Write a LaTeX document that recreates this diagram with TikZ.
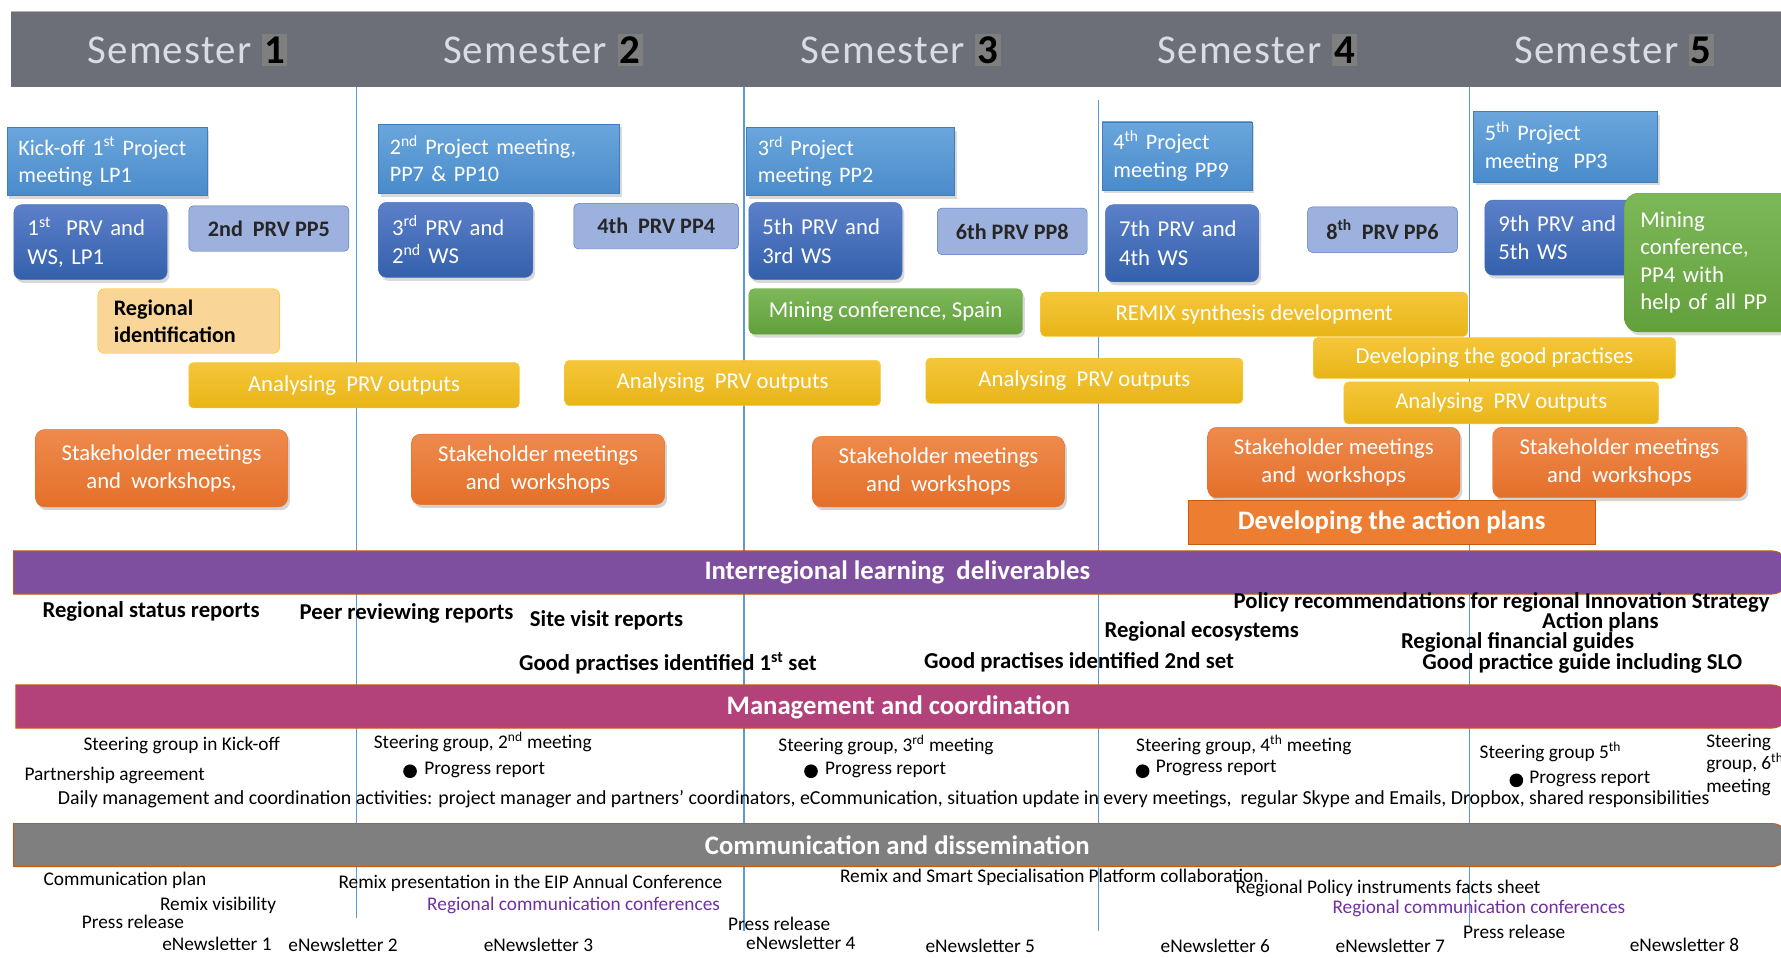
\documentclass[tikz,border=0pt]{standalone}
\usepackage{fontspec}
\setmainfont{Carlito}
\newfontfamily\semfont[LetterSpace=3]{Carlito}
\usetikzlibrary{shadows}

\definecolor{headgray}{HTML}{6D6F78}
\definecolor{semtext}{HTML}{D9DCE2}
\definecolor{numgray}{HTML}{7F7F7F}
\definecolor{gridblue}{HTML}{5B9BD5}
\definecolor{meettop}{HTML}{6AA6DC}
\definecolor{meetbot}{HTML}{4A8BCB}
\definecolor{prvtop}{HTML}{5B80C9}
\definecolor{prvbot}{HTML}{3460AB}
\definecolor{prvline}{HTML}{4F72BE}
\definecolor{prvlight}{HTML}{9DB1DE}
\definecolor{greentop}{HTML}{7DB858}
\definecolor{greenbot}{HTML}{62A03C}
\definecolor{yelltop}{HTML}{F5C63A}
\definecolor{yellbot}{HTML}{E8B517}
\definecolor{yellline}{HTML}{F9C940}
\definecolor{regfill}{HTML}{F9D597}
\definecolor{regline}{HTML}{FFC000}
\definecolor{orantop}{HTML}{EE8A4C}
\definecolor{oranbot}{HTML}{E4702A}
\definecolor{oranfill}{HTML}{ED7D31}
\definecolor{barline}{HTML}{C55A11}
\definecolor{delivpurple}{HTML}{7F4F9F}
\definecolor{mgmtpink}{HTML}{B4427A}
\definecolor{commgray}{HTML}{7F7F7F}
\definecolor{confpurple}{HTML}{7030A0}

\newcommand{\semnum}[1]{{\setlength{\fboxsep}{2pt}\colorbox{numgray}{\normalfont\bfseries\color{black}#1}}}

\begin{document}
\begin{tikzpicture}[x=1pt, y=-1pt,
  sem/.style={text=semtext, font=\semfont\fontsize{36}{38}\selectfont},
  meet/.style={top color=meettop, bottom color=meetbot, draw=meetbot!90!black, text=white,
    anchor=north west, inner xsep=10pt, align=left, font=\fontsize{19.5}{24}\selectfont,
    drop shadow={shadow xshift=2pt, shadow yshift=-3pt, opacity=0.3}},
  prv/.style={top color=prvtop, bottom color=prvbot, draw=prvline, text=white, rounded corners=7pt,
    anchor=north west, inner xsep=12pt, align=left, font=\fontsize{20}{25}\selectfont,
    drop shadow={shadow xshift=2pt, shadow yshift=-3pt, opacity=0.3}},
  prvsingle/.style={fill=prvlight, draw=prvline, rounded corners=4pt, anchor=north west,
    font=\bfseries\fontsize{19.5}{22}\selectfont, text=black!85},
  green/.style={top color=greentop, bottom color=greenbot, draw=greenbot, text=white, rounded corners=5pt,
    anchor=north west, font=\fontsize{20}{24}\selectfont,
    drop shadow={shadow xshift=2pt, shadow yshift=-3pt, opacity=0.3}},
  yell/.style={top color=yelltop, bottom color=yellbot, draw=yellline, text=white, rounded corners=4pt,
    anchor=north west, font=\fontsize{20}{22}\selectfont},
  orng/.style={top color=orantop, bottom color=oranbot, draw=oranbot, text=white, rounded corners=8pt,
    anchor=north west, align=center, font=\fontsize{20}{25}\selectfont,
    drop shadow={shadow xshift=2pt, shadow yshift=-3pt, opacity=0.35}},
  bartitle/.style={text=white, font=\bfseries\fontsize{23.5}{26}\selectfont},
  deliv/.style={font=\bfseries\fontsize{20}{22}\selectfont},
  small/.style={font=\fontsize{17}{19}\selectfont},
  dot/.style={circle, fill=black, minimum width=12pt, minimum height=11pt, inner sep=0pt}]

\useasboundingbox (0,0) rectangle (1568,843);

% Semester header
\fill[headgray] (10,10) rectangle (1568,77);
\draw[black!30] (10,10) -- (1568,10);
\node[sem] (s1) at (165,44) {Semester \semnum{1}};
\node[sem] (s2) at (478,44) {Semester \semnum{2}};
\node[sem] (s3) at (793,44) {Semester \semnum{3}};
\node[sem] (s4) at (1107,44) {Semester \semnum{4}};
\node[sem] (s5) at (1421,44) {Semester \semnum{5}};

% Semester borders
\draw[gridblue, line width=1pt] (314,77) -- (314,808);
\draw[gridblue, line width=1pt] (655,77) -- (655,820);
\draw[gridblue, line width=1pt] (967,88) -- (967,820);
\draw[gridblue, line width=1pt] (1294,77) -- (1294,815);

% Project meetings
\node[meet, minimum width=176pt, minimum height=60pt, text width=156pt] (pm1) at (6,112) {Kick-off 1\textsuperscript{st} Project\\meeting LP1};
\node[meet, minimum width=212pt, minimum height=61pt, text width=192pt] (pm2) at (333,109) {2\textsuperscript{nd} Project meeting,\\PP7 \& PP10};
\node[meet, minimum width=183pt, minimum height=60pt, text width=163pt] (pm3) at (657,112) {3\textsuperscript{rd} Project\\meeting PP2};
\node[meet, minimum width=132pt, minimum height=60pt, text width=112pt] (pm4) at (970,107) {4\textsuperscript{th} Project\\meeting PP9};
\node[meet, minimum width=162pt, minimum height=62pt, text width=142pt] (pm5) at (1297,98) {5\textsuperscript{th} Project\\meeting~ PP3};

% PRVs and workshops
\node[prv, minimum width=135pt, minimum height=66pt, text width=111pt] (prv1) at (12,180) {1\textsuperscript{st}~ PRV and\\WS, LP1};
\node[prvsingle, minimum width=141pt, minimum height=40pt] (prv2) at (166,181) {2nd~ PRV PP5};
\node[prv, minimum width=136pt, minimum height=66pt, text width=112pt] (prv3) at (333,178) {3\textsuperscript{rd} PRV and\\2\textsuperscript{nd} WS};
\node[prvsingle, minimum width=145pt, minimum height=40pt] (prv4) at (505,179) {4th~ PRV PP4};
\node[prv, minimum width=135pt, minimum height=68pt, text width=111pt] (prv5) at (659,178) {5th PRV and\\3rd WS};
\node[prvsingle, minimum width=132pt, minimum height=41pt] (prv6) at (825,183) {6th PRV PP8};
\node[prv, minimum width=135pt, minimum height=68pt, text width=111pt] (prv7) at (973,180) {7th PRV and\\4th WS};
\node[prvsingle, minimum width=132pt, minimum height=40pt] (prv8) at (1151,182) {8\textsuperscript{th}~ PRV PP6};
\node[prv, minimum width=135pt, minimum height=66pt, text width=111pt] (prv9) at (1307,176) {9th PRV and\\5th WS};

% Conferences
\node[green, minimum width=241pt, minimum height=40pt] (mc1) at (659,254) {Mining conference, Spain};
\node[green, rounded corners=12pt, minimum width=150pt, minimum height=122pt, inner xsep=14pt, text width=122pt, align=left] (mc2) at (1430,170) {Mining\\conference,\\PP4 with\\help of all PP};

% Analysis and development
\node[fill=regfill, draw=regline, rounded corners=6pt, anchor=north west, minimum width=160pt, minimum height=57pt,
  inner xsep=14pt, text width=132pt, align=left, font=\bfseries\fontsize{19.5}{24}\selectfont] (regid) at (86,254) {Regional\\identification};
\node[yell, minimum width=291pt, minimum height=40pt] (ap1) at (166,319) {Analysing~ PRV outputs};
\node[yell, minimum width=278pt, minimum height=40pt] (ap2) at (497,317) {Analysing~ PRV outputs};
\node[yell, minimum width=279pt, minimum height=40pt] (ap3) at (815,315) {Analysing~ PRV outputs};
\node[yell, minimum width=376pt, minimum height=39pt] (remix) at (916,257) {REMIX synthesis development};
\node[yell, minimum width=319pt, minimum height=36pt] (goodp) at (1156,297) {Developing the good practises};
\node[yell, minimum width=277pt, minimum height=37pt] (ap4) at (1183,336) {Analysing~ PRV outputs};

% Stakeholders
\node[orng, minimum width=222pt, minimum height=68pt] (sh1) at (31,378) {Stakeholder meetings\\and~ workshops,};
\node[orng, minimum width=223pt, minimum height=62pt] (sh2) at (362,382) {Stakeholder meetings\\and~ workshops};
\node[orng, minimum width=222pt, minimum height=62pt] (sh3) at (715,384) {Stakeholder meetings\\and~ workshops};
\node[orng, minimum width=222pt, minimum height=62pt] (sh4) at (1063,376) {Stakeholder meetings\\and~ workshops};
\node[orng, minimum width=223pt, minimum height=62pt] (sh5) at (1314,376) {Stakeholder meetings\\and~ workshops};
\node[fill=oranfill, draw=barline, anchor=north west, minimum width=358pt, minimum height=39pt, text=white,
  font=\bfseries\fontsize{23.5}{26}\selectfont] (actplan) at (1046,440) {Developing the action plans};

% Interregional learning
\filldraw[fill=delivpurple, draw=barline, line width=0.8pt] (12,485) -- (1560,485) to[out=0,in=90] (1576,504) to[out=-90,in=0] (1560,523) -- (12,523) -- cycle;
\node[bartitle] (delivbar) at (790,504) {Interregional learning~ deliverables};
\node[deliv] (rsr) at (133,538) {Regional status reports};
\node[deliv] (prr) at (358,540) {Peer reviewing reports};
\node[deliv] (svr) at (534,546) {Site visit reports};
\node[deliv] (gp1) at (588,584) {Good practises identified 1\textsuperscript{st} set};
\node[deliv] (gp2) at (950,583) {Good practises identified 2nd set};
\node[deliv] (eco) at (1058,556) {Regional ecosystems};
\node[deliv] (pol) at (1322,530) {Policy recommendations for regional Innovation Strategy};
\node[deliv] (act) at (1409,548) {Action plans};
\node[deliv] (fin) at (1336,566) {Regional financial guides};
\node[deliv] (slo) at (1393,584) {Good practice guide including SLO};

% Management
\filldraw[fill=mgmtpink, draw=barline, line width=0.8pt] (14,603) -- (1560,603) to[out=0,in=90] (1576,622) to[out=-90,in=0] (1560,641) -- (14,641) -- cycle;
\node[bartitle] (mgmtbar) at (791,623) {Management and coordination};
\node[small] (sg1) at (160,656) {Steering group in Kick-off};
\node[small] (pa) at (101,683) {Partnership agreement};
\node[small] (sg2) at (425,653) {Steering group, 2\textsuperscript{nd} meeting};
\node[dot] (d2) at (361,679) {};
\node[small, anchor=west] (pr2) at (370,678) {Progress report};
\node[small] (sg3) at (780,656) {Steering group, 3\textsuperscript{rd} meeting};
\node[dot] (d3) at (714,679) {};
\node[small, anchor=west] (pr3) at (723,678) {Progress report};
\node[small] (sg4) at (1095,656) {Steering group, 4\textsuperscript{th} meeting};
\node[dot] (d4) at (1006,679) {};
\node[small, anchor=west] (pr4) at (1014,676) {Progress report};
\node[small] (sg5) at (1365,662) {Steering group 5\textsuperscript{th}};
\node[dot] (d5) at (1335,687) {};
\node[small, anchor=west] (pr5) at (1343,686) {Progress report};
\node[small, anchor=north west, inner sep=0pt, align=left, font=\fontsize{17}{20}\selectfont] (sg6) at (1502,646) {Steering\\group, 6\textsuperscript{th}\\meeting};
\node[small, font=\fontsize{17.5}{19}\selectfont] (daily) at (778,704) {Daily management and coordination activities: project manager and partners’ coordinators, eCommunication, situation update in every meetings,~ regular Skype and Emails, Dropbox, shared responsibilities};

% Communication
\filldraw[fill=commgray, draw=barline, line width=0.8pt] (12,725) -- (1560,725) to[out=0,in=90] (1576,744) to[out=-90,in=0] (1560,763) -- (12,763) -- cycle;
\node[bartitle] (commbar) at (790,744) {Communication and dissemination};
\node[small] (cp) at (110,775) {Communication plan};
\node[small] (rv) at (192,797) {Remix visibility};
\node[small] (pr1) at (117,812) {Press release};
\node[small] (en1) at (191,831) {eNewsletter 1};
\node[small] (en2) at (302,832) {eNewsletter 2};
\node[small] (eip) at (467,778) {Remix presentation in the EIP Annual Conference};
\node[small, text=confpurple] (rcc1) at (505,797) {Regional communication conferences};
\node[small] (en3) at (474,832) {eNewsletter 3};
\node[small] (prb) at (686,813) {Press release};
\node[small] (en4) at (705,830) {eNewsletter 4};
\node[small] (ssp) at (926,772) {Remix and Smart Specialisation Platform collaboration};
\node[small] (en5) at (863,833) {eNewsletter 5};
\node[small] (rpi) at (1222,782) {Regional Policy instruments facts sheet};
\node[small, text=confpurple] (rcc2) at (1302,800) {Regional communication conferences};
\node[small] (en6) at (1070,833) {eNewsletter 6};
\node[small] (en7) at (1224,833) {eNewsletter 7};
\node[small] (prc) at (1333,820) {Press release};
\node[small] (en8) at (1483,832) {eNewsletter 8};

\end{tikzpicture}
\end{document}
